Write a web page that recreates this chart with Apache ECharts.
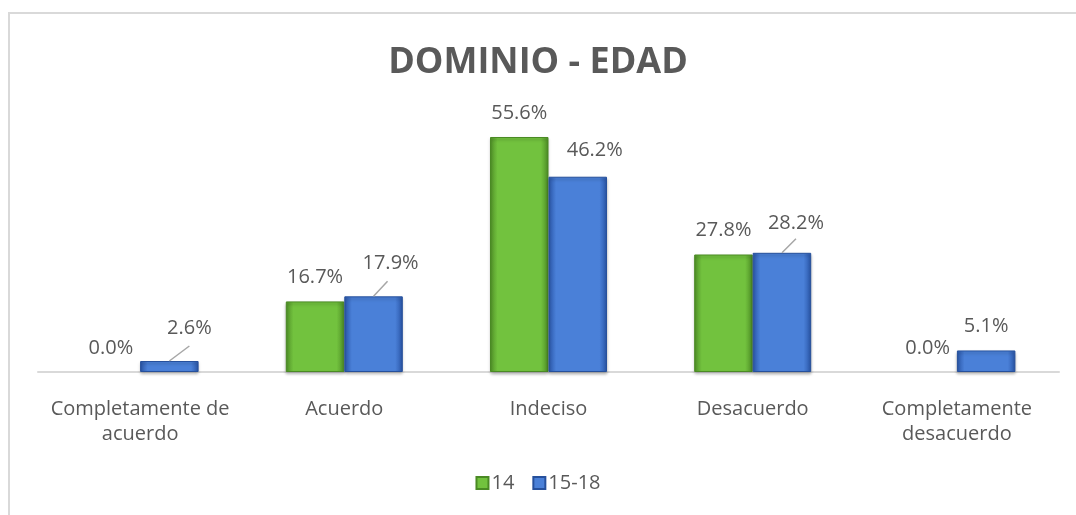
<!DOCTYPE html>
<html>
<head>
<meta charset="utf-8">
<script src="https://cdn.jsdelivr.net/npm/echarts@6/dist/echarts.min.js"></script>
<style>
  html, body { margin: 0; padding: 0; background: #fff; }
  #frame { position: absolute; left: 8px; top: 12px; width: 1100px; height: 600px;
           border-left: 2px solid #d9d9d9; border-top: 2px solid #d9d9d9; }
  #chart { position: absolute; left: 0; top: 0; width: 1076px; height: 515px; }
</style>
</head>
<body>
<div id="frame"></div>
<div id="chart"></div>
<script>
  // datos
  var categories = ['Completamente de\nacuerdo', 'Acuerdo', 'Indeciso', 'Desacuerdo', 'Completamente\ndesacuerdo'];
  var seriesNames = ['14', '15-18'];
  var edad14 = [0.0, 16.7, 55.6, 27.8, 0.0];
  var edad15a18 = [2.6, 17.9, 46.2, 28.2, 5.1];

  // desplazamiento de etiquetas de 15-18 (como en el original de Excel)
  var labelShift = [[20, -9], [17, -9], [17, -2], [14, -6], [0, 0]];
  // lineas guia: [indice categoria, dx, dy]
  var leaderLines = [[0, 20, -15], [1, 14, -15], [3, 14, -14]];

  var gris = '#595959';
  var fuente = '"Open Sans", "DejaVu Sans", sans-serif';
  var barW = 58.5;

  function bevel(dark, main) {
    return {
      type: 'linear', x: 0, y: 0, x2: 1, y2: 0,
      colorStops: [
        { offset: 0, color: dark },
        { offset: 0.13, color: main },
        { offset: 0.87, color: main },
        { offset: 1, color: dark }
      ]
    };
  }

  var labelBase = {
    show: true,
    position: 'top',
    distance: 14,
    color: gris,
    fontSize: 20,
    lineHeight: 20,
    fontFamily: fuente,
    formatter: function (p) { return p.value.toFixed(1) + '%'; }
  };

  // sin borde ni sombra para las barras en cero
  function items(arr) {
    return arr.map(function (v) {
      if (v === 0) return { value: v, itemStyle: { borderWidth: 0, shadowBlur: 0, shadowOffsetY: 0 } };
      return v;
    });
  }

  var option = {
    animation: false,
    title: {
      text: 'DOMINIO - EDAD',
      left: 'center',
      top: 40,
      textStyle: { color: gris, fontSize: 36, fontWeight: 'bold', fontFamily: fuente }
    },
    legend: {
      data: seriesNames,
      bottom: 17,
      left: 'center',
      icon: 'rect',
      itemWidth: 12,
      itemHeight: 12,
      itemGap: 18,
      textStyle: { color: gris, fontSize: 20, fontFamily: fuente, padding: [0, 0, 0, -2] }
    },
    grid: { left: 38, right: 17, top: 118.4, bottom: 143 },
    xAxis: {
      type: 'category',
      data: categories,
      axisTick: { show: false },
      axisLine: { lineStyle: { color: '#d9d9d9', width: 2 } },
      axisLabel: {
        interval: 0, margin: 25, color: gris, fontSize: 20,
        lineHeight: 25, fontFamily: fuente
      }
    },
    yAxis: {
      type: 'value', min: 0, max: 60, show: false,
      splitLine: { show: false }
    },
    series: [
      {
        name: seriesNames[0],
        type: 'bar',
        barWidth: barW,
        barGap: '0%',
        data: items(edad14),
        itemStyle: {
          color: bevel('#4f8f27', '#72c23e'),
          borderColor: '#4a8a24', borderWidth: 1,
          shadowColor: 'rgba(0,0,0,0.25)', shadowBlur: 3, shadowOffsetY: 2
        },
        label: labelBase
      },
      {
        name: seriesNames[1],
        type: 'bar',
        barWidth: barW,
        barGap: '0%',
        data: items(edad15a18),
        itemStyle: {
          color: bevel('#2a56a8', '#4a80d8'),
          borderColor: '#26509c', borderWidth: 1,
          shadowColor: 'rgba(0,0,0,0.25)', shadowBlur: 3, shadowOffsetY: 2
        },
        label: labelBase,
        labelLayout: function (p) {
          var s = labelShift[p.dataIndex];
          return { dx: s[0], dy: s[1] };
        }
      },
      {
        name: 'guias',
        type: 'custom',
        silent: true,
        z: 5,
        data: leaderLines.map(function (l) { return [l[0], edad15a18[l[0]], l[1], l[2]]; }),
        renderItem: function (params, api) {
          var p = api.coord([api.value(0), api.value(1)]);
          var x0 = p[0] + barW / 2;
          return {
            type: 'line',
            shape: { x1: x0, y1: p[1], x2: x0 + api.value(2), y2: p[1] + api.value(3) },
            style: { stroke: '#a6a6a6', lineWidth: 1.5 }
          };
        }
      }
    ]
  };

  var myChart = echarts.init(document.getElementById('chart'));
  myChart.setOption(option);
</script>
</body>
</html>
